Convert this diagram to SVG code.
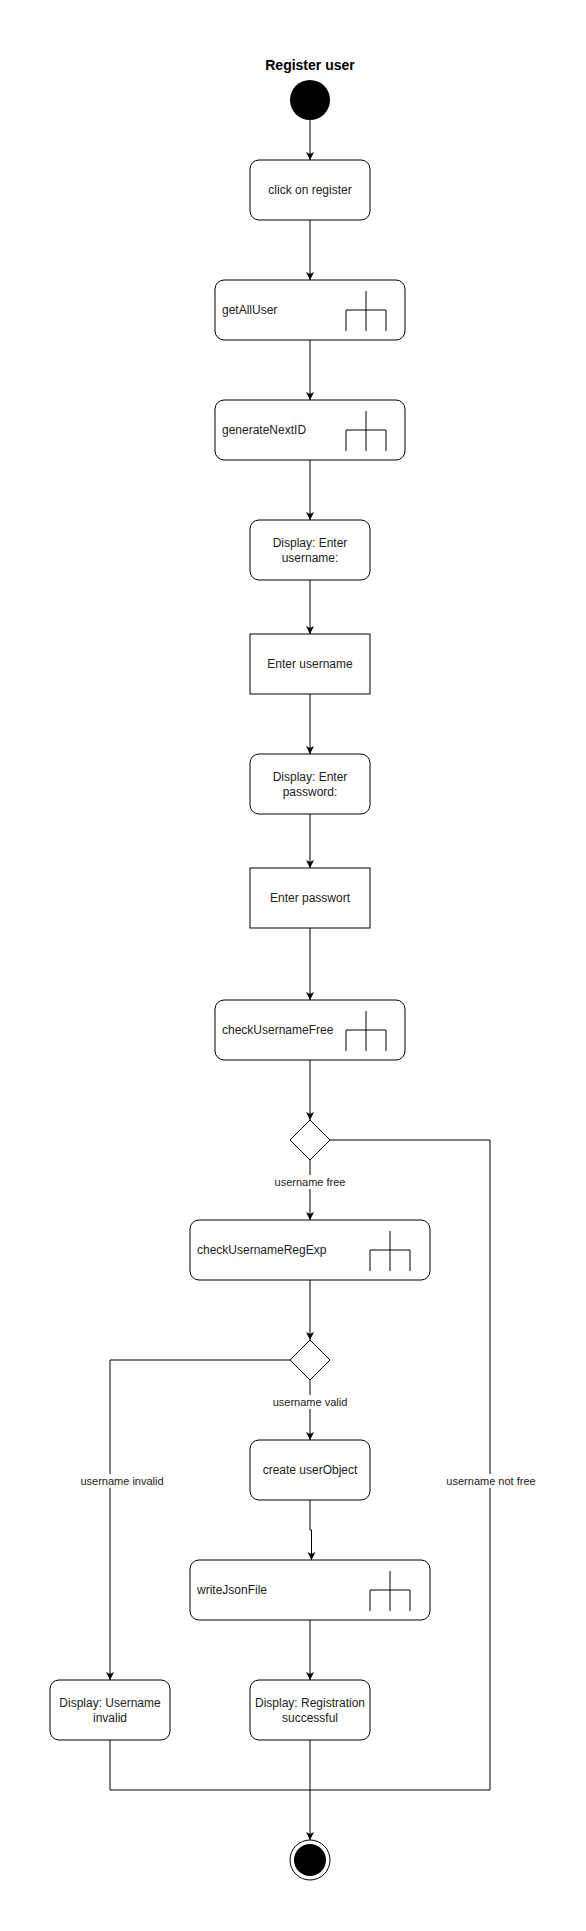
<svg xmlns="http://www.w3.org/2000/svg" width="586" height="1931" viewBox="0 0 586 1931">
<style>
.n{fill:#fff;stroke:#000;stroke-width:1}
.t{font-family:"Liberation Sans",Arial,sans-serif;font-size:12px;fill:#222;text-anchor:middle}
.tl{font-family:"Liberation Sans",Arial,sans-serif;font-size:12px;fill:#222;text-anchor:start}
.lb{font-family:"Liberation Sans",Arial,sans-serif;font-size:11px;fill:#222;text-anchor:middle}
.e{fill:none;stroke:#000;stroke-width:1}
.f{fill:none;stroke:#000;stroke-width:1}
</style>
<defs>
<marker id="arr" markerUnits="userSpaceOnUse" markerWidth="10" markerHeight="10" refX="8" refY="4" orient="auto">
<path d="M0,0 L8,4 L0,8 L2,4 Z" fill="#000"/>
</marker>
<g id="fork">
<path class="f" d="M0,11 V51 M-20,51 V30 H20 V51"/>
</g>
</defs>
<rect width="586" height="1931" fill="#fff"/>
<g id="connectors">
<path class="e" marker-end="url(#arr)" d="M310,120 V160"/>
<path class="e" marker-end="url(#arr)" d="M310,220 V280"/>
<path class="e" marker-end="url(#arr)" d="M310,340 V400"/>
<path class="e" marker-end="url(#arr)" d="M310,460 V520"/>
<path class="e" marker-end="url(#arr)" d="M310,580 V634"/>
<path class="e" marker-end="url(#arr)" d="M310,694 V754"/>
<path class="e" marker-end="url(#arr)" d="M310,814 V868"/>
<path class="e" marker-end="url(#arr)" d="M310,928 V1000"/>
<path class="e" marker-end="url(#arr)" d="M310,1060 V1120"/>
<path class="e" marker-end="url(#arr)" d="M310,1160 V1220"/>
<path class="e" d="M330,1140 H490 V1790 H310"/>
<path class="e" marker-end="url(#arr)" d="M310,1280 V1340"/>
<path class="e" marker-end="url(#arr)" d="M310,1380 V1440"/>
<path class="e" marker-end="url(#arr)" d="M290,1360 H110 V1680"/>
<path class="e" marker-end="url(#arr)" d="M310,1500 V1530 H311.5 V1560"/>
<path class="e" marker-end="url(#arr)" d="M310,1620 V1680"/>
<path class="e" d="M110,1740 V1790 H310"/>
<path class="e" marker-end="url(#arr)" d="M310,1740 V1840"/>
<rect x="274" y="1175" width="72" height="14" fill="#fff"/>
<text class="lb" x="310" y="1186">username free</text>
<rect x="271" y="1395" width="78" height="14" fill="#fff"/>
<text class="lb" x="310" y="1406">username valid</text>
<rect x="80" y="1474" width="84" height="14" fill="#fff"/>
<text class="lb" x="122" y="1485">username invalid</text>
<rect x="446" y="1474" width="91" height="14" fill="#fff"/>
<text class="lb" x="491" y="1485">username not free</text>
</g>
<g id="title">
<text x="310" y="70" font-family="'Liberation Sans',Arial,sans-serif" font-size="14" font-weight="bold" text-anchor="middle" fill="#000">Register user</text>
</g>
<g id="start"><circle cx="310" cy="100" r="20" fill="#000"/></g>
<g id="clickRegister"><rect class="n" x="250" y="160" width="120" height="60" rx="9"/><text class="t" x="310" y="194">click on register</text></g>
<g id="getAllUser"><rect class="n" x="215" y="280" width="190" height="60" rx="9"/><text class="tl" x="222" y="314">getAllUser</text><use href="#fork" x="366" y="280"/></g>
<g id="generateNextID"><rect class="n" x="215" y="400" width="190" height="60" rx="9"/><text class="tl" x="222" y="434">generateNextID</text><use href="#fork" x="366" y="400"/></g>
<g id="displayUsername"><rect class="n" x="250" y="520" width="120" height="60" rx="9"/><text class="t" x="310" y="547">Display: Enter</text><text class="t" x="310" y="562">username:</text></g>
<g id="enterUsername"><rect class="n" x="250" y="634" width="120" height="60"/><text class="t" x="310" y="668">Enter username</text></g>
<g id="displayPassword"><rect class="n" x="250" y="754" width="120" height="60" rx="9"/><text class="t" x="310" y="781">Display: Enter</text><text class="t" x="310" y="796">password:</text></g>
<g id="enterPassword"><rect class="n" x="250" y="868" width="120" height="60"/><text class="t" x="310" y="902">Enter passwort</text></g>
<g id="checkUsernameFree"><rect class="n" x="215" y="1000" width="190" height="60" rx="9"/><text class="tl" x="222" y="1034">checkUsernameFree</text><use href="#fork" x="366" y="1000"/></g>
<g id="decisionFree"><path class="n" d="M310,1120 L330,1140 L310,1160 L290,1140 Z"/></g>
<g id="checkUsernameRegExp"><rect class="n" x="190" y="1220" width="240" height="60" rx="9"/><text class="tl" x="197" y="1254">checkUsernameRegExp</text><use href="#fork" x="390" y="1220"/></g>
<g id="decisionValid"><path class="n" d="M310,1340 L330,1360 L310,1380 L290,1360 Z"/></g>
<g id="createUserObject"><rect class="n" x="250" y="1440" width="120" height="60" rx="9"/><text class="t" x="310" y="1474">create userObject</text></g>
<g id="writeJsonFile"><rect class="n" x="190" y="1560" width="240" height="60" rx="9"/><text class="tl" x="197" y="1594">writeJsonFile</text><use href="#fork" x="390" y="1560"/></g>
<g id="displayInvalid"><rect class="n" x="50" y="1680" width="120" height="60" rx="9"/><text class="t" x="110" y="1707">Display: Username</text><text class="t" x="110" y="1722">invalid</text></g>
<g id="displaySuccess"><rect class="n" x="250" y="1680" width="120" height="60" rx="9"/><text class="t" x="310" y="1707">Display: Registration</text><text class="t" x="310" y="1722">successful</text></g>
<g id="end"><circle cx="310" cy="1860" r="20" fill="#fff" stroke="#000" stroke-width="1"/><circle cx="310" cy="1860" r="16" fill="#000"/></g>
</svg>
